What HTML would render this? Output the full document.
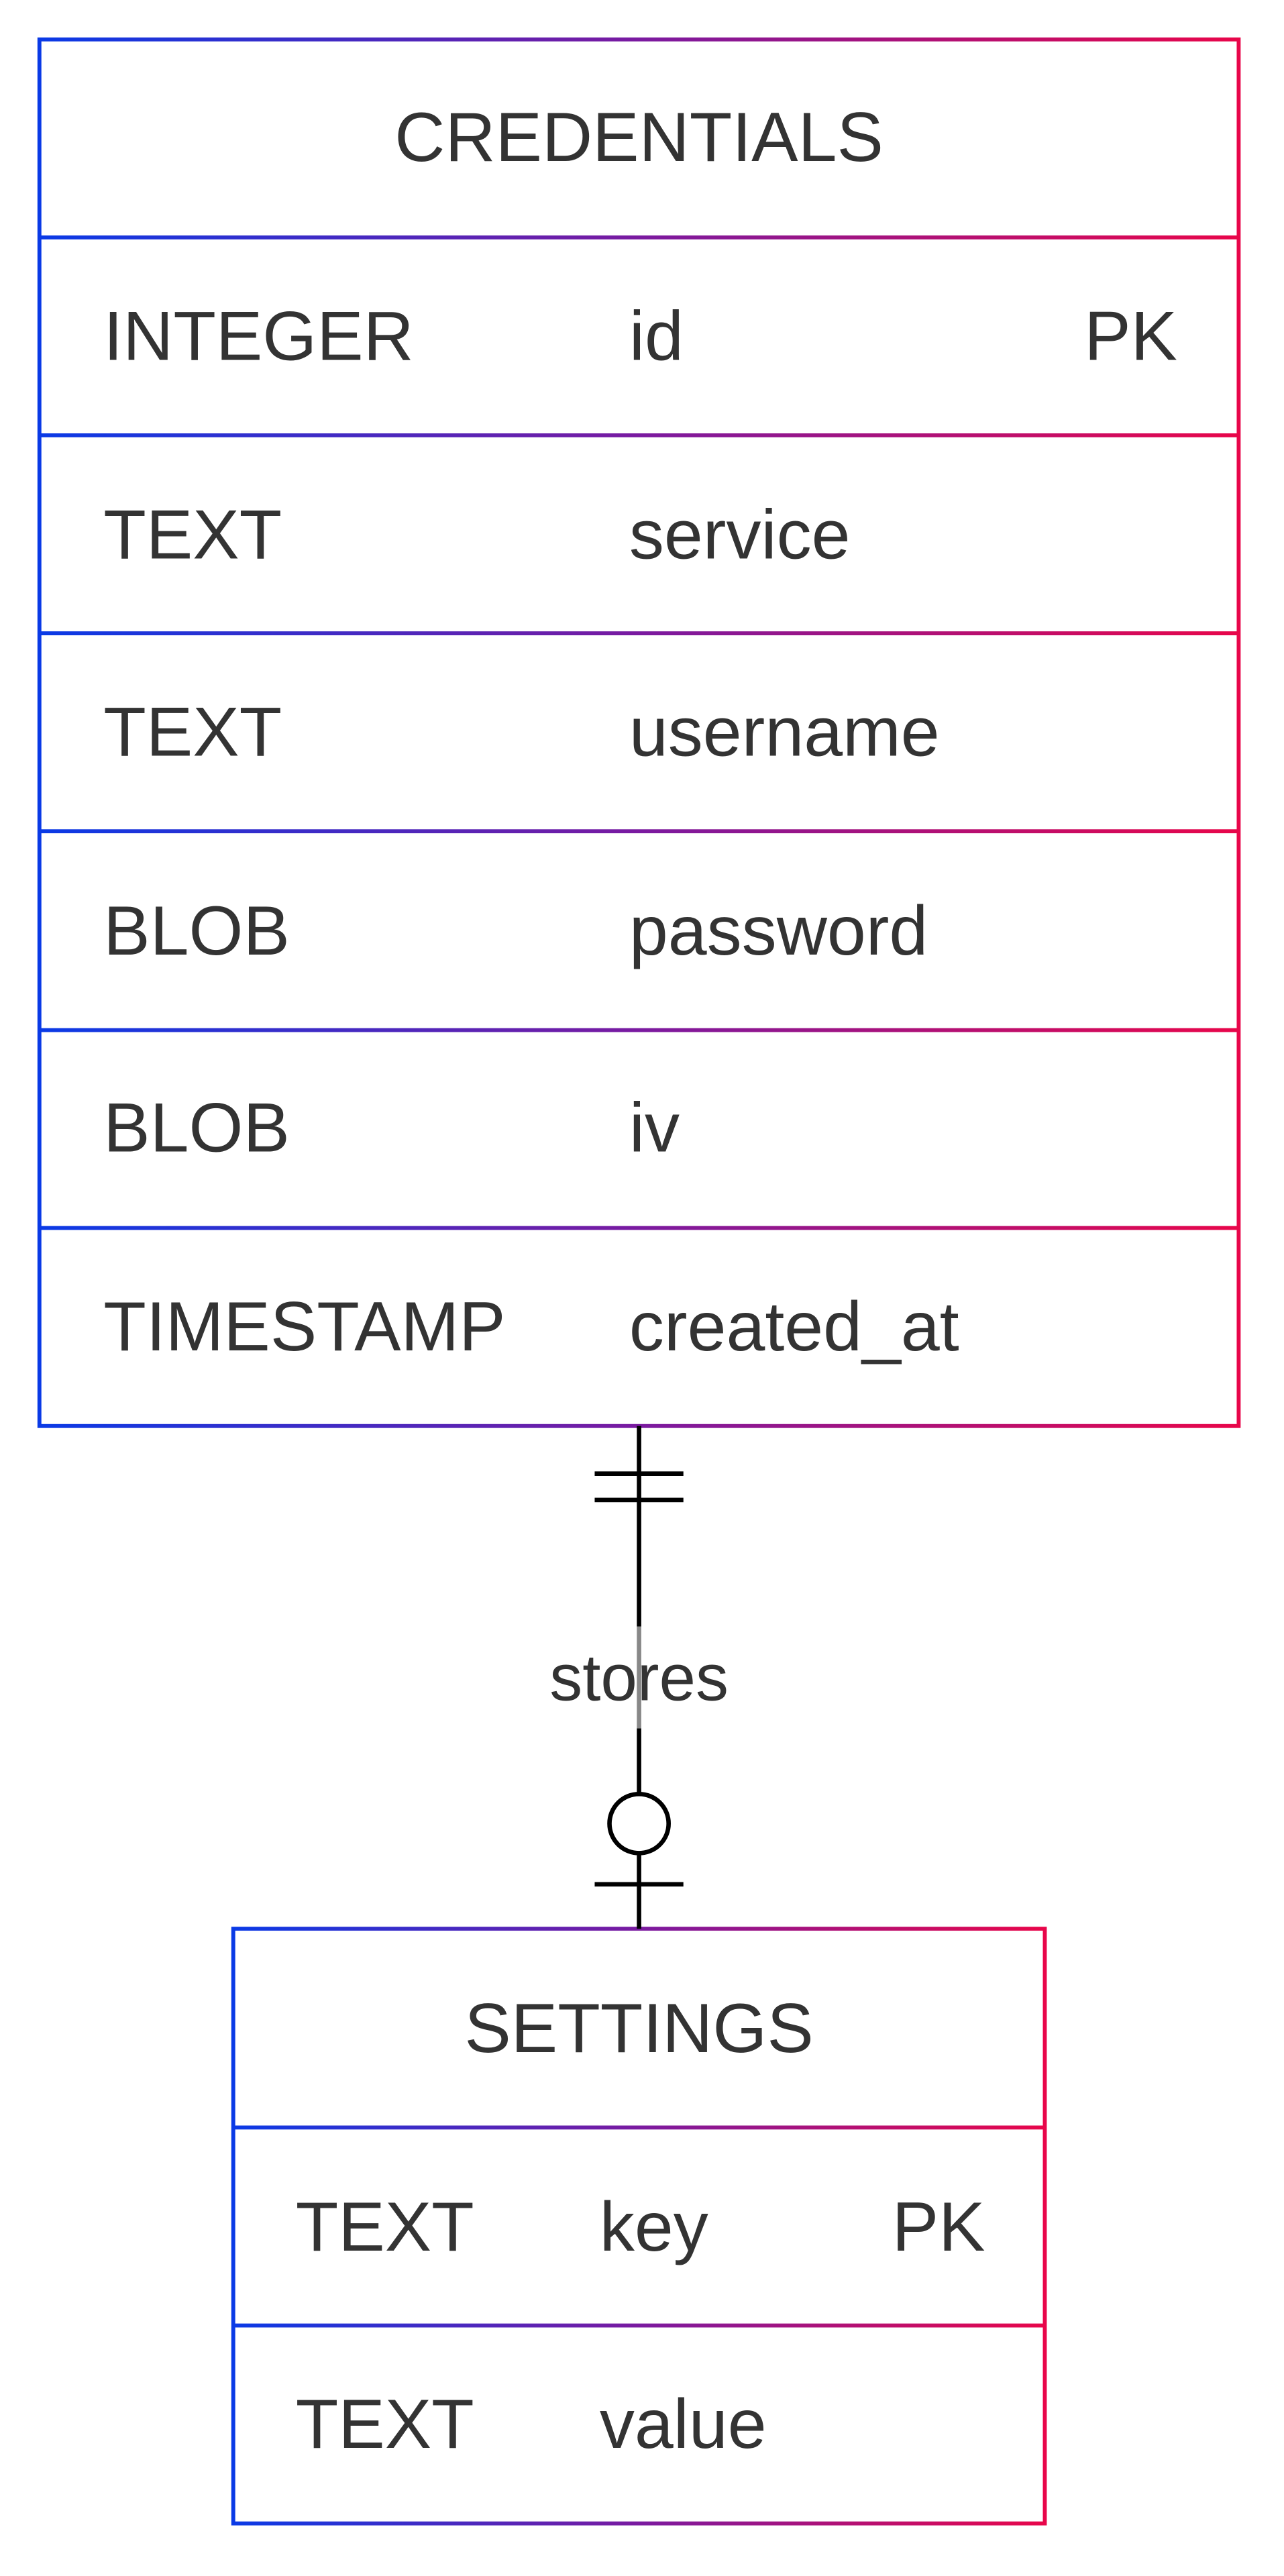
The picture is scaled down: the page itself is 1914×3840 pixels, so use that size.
<!DOCTYPE html>
<html><head><meta charset="utf-8"><style>html,body{margin:0;padding:0;background:#fff}svg{display:block}</style></head>
<body>
<svg width="1914" height="3840" viewBox="0 0 781.6 1568" preserveAspectRatio="none" xmlns="http://www.w3.org/2000/svg" font-family="'Liberation Sans', Arial, sans-serif" fill="#333">
<defs>
<linearGradient id="g1" gradientUnits="userSpaceOnUse" x1="24" y1="0" x2="754" y2="0"><stop offset="0" stop-color="#0a3ae6"/><stop offset="0.5" stop-color="#7a1aa0"/><stop offset="1" stop-color="#e8064a"/></linearGradient>
<linearGradient id="g2" gradientUnits="userSpaceOnUse" x1="142" y1="0" x2="636" y2="0"><stop offset="0" stop-color="#0a3ae6"/><stop offset="0.5" stop-color="#7a1aa0"/><stop offset="1" stop-color="#e8064a"/></linearGradient>
</defs>
<g stroke="url(#g1)" stroke-width="2.4" fill="none">
<rect x="24" y="24" width="730" height="844"/>
<line x1="24" y1="144.5" x2="754" y2="144.5"/>
<line x1="24" y1="265" x2="754" y2="265"/>
<line x1="24" y1="385.5" x2="754" y2="385.5"/>
<line x1="24" y1="506" x2="754" y2="506"/>
<line x1="24" y1="627" x2="754" y2="627"/>
<line x1="24" y1="747.5" x2="754" y2="747.5"/>
</g>
<g font-size="42.5">
<text x="389" y="98" text-anchor="middle">CREDENTIALS</text>
<text x="63" y="219">INTEGER</text><text x="383" y="219">id</text><text x="660" y="219">PK</text>
<text x="63" y="340">TEXT</text><text x="383" y="340">service</text>
<text x="63" y="460">TEXT</text><text x="383" y="460">username</text>
<text x="63" y="581">BLOB</text><text x="383" y="581">password</text>
<text x="63" y="701">BLOB</text><text x="383" y="701">iv</text>
<text x="63" y="822">TIMESTAMP</text><text x="383" y="822">created_at</text>
</g>
<g stroke="url(#g2)" stroke-width="2.4" fill="none">
<rect x="142" y="1174" width="494" height="362"/>
<line x1="142" y1="1295" x2="636" y2="1295"/>
<line x1="142" y1="1415.5" x2="636" y2="1415.5"/>
</g>
<g font-size="42.5">
<text x="389" y="1249" text-anchor="middle">SETTINGS</text>
<text x="180" y="1370">TEXT</text><text x="365" y="1370">key</text><text x="543" y="1370">PK</text>
<text x="180" y="1490">TEXT</text><text x="365" y="1490">value</text>
</g>
<g stroke="#000" stroke-width="2.7" fill="none">
<line x1="389" y1="868" x2="389" y2="990"/>
<line x1="389" y1="1052" x2="389" y2="1092"/>
<line x1="389" y1="1128" x2="389" y2="1174"/>
<line x1="362" y1="897" x2="416" y2="897"/>
<line x1="362" y1="913" x2="416" y2="913"/>
<line x1="362" y1="1147" x2="416" y2="1147"/>
<circle cx="389" cy="1110" r="18" fill="#fff"/>
</g>
<line x1="389" y1="990" x2="389" y2="1052" stroke="#888" stroke-width="2.7"/>
<text x="389" y="1035" font-size="40" text-anchor="middle">stores</text>
</svg>
</body></html>
